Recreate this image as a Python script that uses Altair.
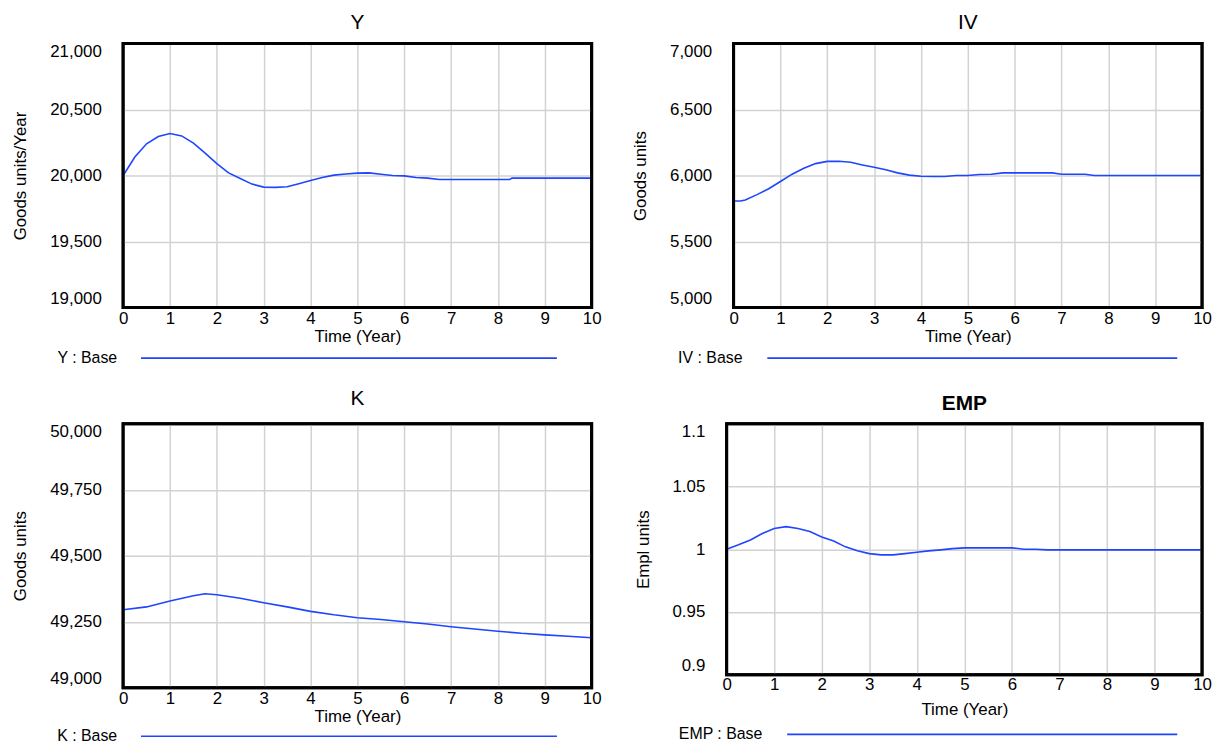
import altair as alt
import pandas as pd

FONT = "Liberation Sans"
BLUE = "#1f45ff"

# ---------------- data ----------------
y_time = [0, 0.25, 0.5, 0.75, 1.0, 1.25, 1.5, 1.75, 2.0, 2.25, 2.5, 2.75, 3.0, 3.25, 3.5,
          3.75, 4.0, 4.25, 4.5, 4.75, 5.0, 5.25, 5.5, 5.75, 6.0, 6.25, 6.5, 6.75, 7.0, 7.5,
          8.0, 8.25, 8.3, 8.5, 9.0, 9.5, 10.0]
y_vals = [20000, 20140, 20240, 20295, 20318, 20300, 20245, 20170, 20090, 20020, 19978,
          19935, 19912, 19910, 19915, 19938, 19962, 19985, 20003, 20012, 20018, 20020,
          20010, 20000, 19997, 19985, 19980, 19970, 19970, 19970, 19970, 19970, 19980,
          19980, 19980, 19980, 19980]

iv_time = [0, 0.15, 0.25, 0.5, 0.75, 1.0, 1.25, 1.5, 1.75, 2.0, 2.25, 2.5, 2.75, 3.0, 3.25,
           3.5, 3.75, 4.0, 4.25, 4.5, 4.75, 5.0, 5.25, 5.5, 5.75, 6.0, 6.5, 6.8, 7.0, 7.5,
           7.7, 8.0, 9.0, 10.0]
iv_vals = [5807, 5807, 5815, 5855, 5900, 5955, 6010, 6055, 6090, 6107, 6108, 6100, 6080,
           6062, 6043, 6020, 6003, 5995, 5992, 5992, 6000, 6000, 6008, 6010, 6020, 6020,
           6020, 6020, 6010, 6010, 6000, 6000, 6000, 6000]

k_time = [0, 0.5, 1.0, 1.5, 1.75, 2.0, 2.5, 3.0, 3.5, 4.0, 4.5, 5.0, 5.5, 6.0, 6.5, 7.0,
          7.5, 8.0, 8.5, 9.0, 9.5, 10.0]
k_vals = [49295, 49306, 49328, 49348, 49356, 49352, 49339, 49322, 49306, 49289, 49276,
          49265, 49258, 49250, 49241, 49231, 49222, 49214, 49206, 49200, 49195, 49189]

emp_time = [0, 0.25, 0.5, 0.75, 1.0, 1.25, 1.5, 1.75, 2.0, 2.25, 2.5, 2.75, 3.0, 3.25, 3.5,
            3.75, 4.0, 4.25, 4.5, 4.75, 5.0, 5.5, 6.0, 6.25, 6.5, 6.75, 7.0, 8.0, 9.0, 10.0]
emp_vals = [1.0, 1.0035, 1.0074, 1.0125, 1.0165, 1.0180, 1.0165, 1.0141, 1.0098, 1.0066,
            1.0019, 0.9987, 0.9965, 0.9955, 0.9955, 0.9965, 0.9976, 0.9987, 0.9995, 1.0005,
            1.0011, 1.0011, 1.0011, 1.0, 1.0, 0.9995, 0.9995, 0.9995, 0.9995, 0.9995]

x_ticks = [0, 1, 2, 3, 4, 5, 6, 7, 8, 9, 10]
y_ticks = [19000, 19500, 20000, 20500, 21000]
iv_ticks = [5000, 5500, 6000, 6500, 7000]
k_ticks = [49000, 49250, 49500, 49750, 50000]
emp_ticks = [0.9, 0.95, 1.0, 1.05, 1.1]


def panel(title, t, v, ydom, yticks, yfmt, ytitle, legend, w, h,
          leg_text_x, leg_x1, leg_x2, leg_dy, title_offset, bold=False,
          x_label_pad=3, x_title_pad=2):
    df = pd.DataFrame({"t": t, "v": v})
    line = alt.Chart(df).mark_line(color=BLUE, strokeWidth=1.6, clip=True).encode(
        x=alt.X("t:Q",
                scale=alt.Scale(domain=[0, 10], nice=False, zero=False),
                axis=alt.Axis(values=x_ticks, title="Time (Year)", format="d",
                              labelPadding=x_label_pad, titlePadding=x_title_pad,
                              labelFlush=False)),
        y=alt.Y("v:Q",
                scale=alt.Scale(domain=ydom, nice=False, zero=False),
                axis=alt.Axis(values=yticks, format=yfmt, title=ytitle,
                              labelPadding=22, titlePadding=20, labelFlush=True)),
    )
    leg = pd.DataFrame({"label": [legend]})
    frame = alt.Chart(leg).mark_rect(fillOpacity=0, stroke="black", strokeWidth=3).encode(
        x=alt.value(0), x2=alt.value(w), y=alt.value(0), y2=alt.value(h))
    txt = alt.Chart(leg).mark_text(align="right", baseline="middle", font=FONT,
                                   fontSize=16, color="black").encode(
        x=alt.value(leg_text_x), y=alt.value(h + leg_dy), text="label:N")
    rule = alt.Chart(leg).mark_rule(color=BLUE, strokeWidth=1.6).encode(
        x=alt.value(leg_x1), x2=alt.value(leg_x2), y=alt.value(h + leg_dy))
    return alt.layer(line, frame, txt, rule).properties(
        width=w, height=h,
        view=alt.ViewBackground(stroke="black", strokeWidth=3, fill="white"),
        title=alt.TitleParams(title, font=FONT, fontSize=21,
                              fontWeight="bold" if bold else "normal",
                              color="black", offset=title_offset, anchor="middle"))


p_y = panel("Y", y_time, y_vals, [19000, 21000], y_ticks, ",.0f", "Goods units/Year",
            "Y : Base", 472, 266, -6, 18, 437, 51, 9)
p_iv = panel("IV", iv_time, iv_vals, [5000, 7000], iv_ticks, ",.0f", "Goods units",
             "IV : Base", 472, 266, 9, 34, 447, 51, 9)
p_k = panel("K", k_time, k_vals, [49000, 50000], k_ticks, ",.0f", "Goods units",
            "K : Base", 472, 266, -6, 18, 437, 49, 13)
p_emp = panel("EMP", emp_time, emp_vals, [0.9, 1.1], emp_ticks, ".2~f", "Empl units",
              "EMP : Base", 479, 253, 36, 61, 454, 60, 8, bold=True,
              x_label_pad=2, x_title_pad=9)

row1 = alt.hconcat(p_y, p_iv, spacing=143, bounds="flush")
row2 = alt.hconcat(p_k, p_emp, spacing=136, bounds="flush")

chart = alt.vconcat(row1, row2, spacing=19).properties(
    padding={"left": 2, "top": 0, "right": 0, "bottom": 0}, background="white"
).configure_view(
    stroke="black", strokeWidth=3
).configure_axis(
    grid=True, gridColor="#d2d2d2", gridWidth=1.5,
    domain=False, ticks=False, tickSize=0,
    labelFont=FONT, labelFontSize=17, labelColor="black",
    titleFont=FONT, titleFontSize=17, titleFontWeight="normal", titleColor="black",
)

chart.save("out.html", embed_options={"renderer": "svg", "actions": False})
